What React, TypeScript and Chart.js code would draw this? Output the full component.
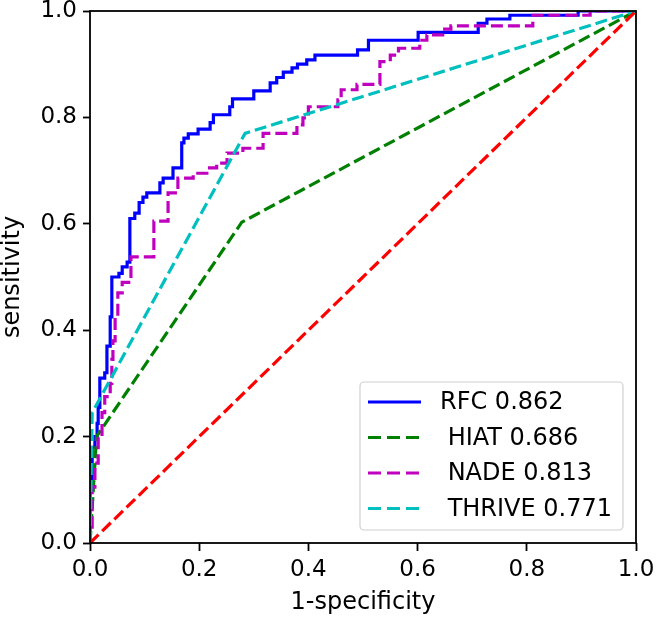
import { useEffect, useRef } from 'react';
import { Chart, registerables } from 'chart.js';

Chart.register(...registerables);

// ROC curves: [false positive rate (1-specificity), true positive rate (sensitivity)]
const rfcRoc: [number, number][] = [
  [0, 0], [0, 0.11], [0.004, 0.11], [0.004, 0.18], [0.009, 0.18], [0.009, 0.2], [0.013, 0.2], [0.013, 0.225],
  [0.015, 0.225], [0.015, 0.255], [0.018, 0.255], [0.018, 0.31], [0.027, 0.31], [0.027, 0.32], [0.031, 0.32],
  [0.031, 0.37], [0.037, 0.37], [0.037, 0.425], [0.04, 0.425], [0.04, 0.5], [0.053, 0.5], [0.053, 0.507],
  [0.059, 0.507], [0.059, 0.519], [0.068, 0.519], [0.068, 0.528], [0.073, 0.528], [0.073, 0.61], [0.082, 0.61],
  [0.082, 0.62], [0.09, 0.62], [0.09, 0.64], [0.097, 0.64], [0.097, 0.65], [0.104, 0.65], [0.104, 0.658],
  [0.128, 0.658], [0.128, 0.677], [0.134, 0.677], [0.134, 0.686], [0.152, 0.686], [0.152, 0.705], [0.168, 0.705],
  [0.168, 0.752], [0.172, 0.752], [0.172, 0.761], [0.18, 0.761], [0.18, 0.769], [0.198, 0.769], [0.198, 0.778],
  [0.22, 0.778], [0.22, 0.79], [0.226, 0.79], [0.226, 0.805], [0.256, 0.805], [0.256, 0.82], [0.261, 0.82],
  [0.261, 0.835], [0.3, 0.835], [0.3, 0.85], [0.33, 0.85], [0.33, 0.865], [0.342, 0.865], [0.342, 0.875],
  [0.354, 0.875], [0.354, 0.885], [0.37, 0.885], [0.37, 0.893], [0.38, 0.893], [0.38, 0.9], [0.397, 0.9],
  [0.397, 0.908], [0.412, 0.908], [0.412, 0.917], [0.49, 0.917], [0.49, 0.927], [0.51, 0.927], [0.51, 0.945],
  [0.601, 0.945], [0.601, 0.96], [0.711, 0.96], [0.711, 0.977], [0.727, 0.977], [0.727, 0.985], [0.769, 0.985],
  [0.769, 0.992], [0.894, 0.992], [0.894, 1], [1, 1],
];

const hiatRoc: [number, number][] = [[0, 0], [0.012, 0.2], [0.278, 0.603], [1, 1]];

const nadeRoc: [number, number][] = [
  [0, 0], [0, 0.03], [0.004, 0.03], [0.004, 0.105], [0.009, 0.105], [0.009, 0.15], [0.015, 0.15], [0.015, 0.2],
  [0.022, 0.2], [0.022, 0.245], [0.027, 0.245], [0.027, 0.275], [0.037, 0.275], [0.037, 0.3], [0.04, 0.3],
  [0.04, 0.345], [0.042, 0.345], [0.042, 0.38], [0.046, 0.38], [0.046, 0.43], [0.051, 0.43], [0.051, 0.47],
  [0.059, 0.47], [0.059, 0.49], [0.075, 0.49], [0.075, 0.538], [0.117, 0.538], [0.117, 0.605], [0.143, 0.605],
  [0.143, 0.658], [0.161, 0.658], [0.161, 0.686], [0.189, 0.686], [0.189, 0.695], [0.214, 0.695], [0.214, 0.705],
  [0.232, 0.705], [0.232, 0.714], [0.251, 0.714], [0.251, 0.733], [0.28, 0.733], [0.28, 0.742], [0.317, 0.742],
  [0.317, 0.77], [0.379, 0.77], [0.379, 0.786], [0.39, 0.786], [0.39, 0.799], [0.4, 0.799], [0.4, 0.82],
  [0.454, 0.82], [0.454, 0.833], [0.46, 0.833], [0.46, 0.852], [0.489, 0.852], [0.489, 0.862], [0.531, 0.862],
  [0.531, 0.905], [0.55, 0.905], [0.55, 0.917], [0.565, 0.917], [0.565, 0.93], [0.604, 0.93], [0.604, 0.945],
  [0.617, 0.945], [0.617, 0.955], [0.646, 0.955], [0.646, 0.966], [0.661, 0.966], [0.661, 0.972], [0.811, 0.972],
  [0.811, 0.992], [0.916, 0.992], [0.916, 1], [1, 1],
];

const thriveRoc: [number, number][] = [[0, 0], [0.004, 0.245], [0.284, 0.77], [1, 1]];

const chanceRoc: [number, number][] = [[0, 0], [1, 1]];

const seriesNames = ['RFC', 'HIAT', 'NADE', 'THRIVE'];
const aucValues = ['0.862', '0.686', '0.813', '0.771'];
const axisTicks = [0, 0.2, 0.4, 0.6, 0.8, 1.0];

const FONT = '"DejaVu Sans", sans-serif';
const DASH = [12, 5];
const LW = 3.2;

const series = [
  { name: seriesNames[0], auc: aucValues[0], roc: rfcRoc, color: '#0000ff', dash: [] as number[] },
  { name: seriesNames[1], auc: aucValues[1], roc: hiatRoc, color: '#008000', dash: DASH },
  { name: seriesNames[2], auc: aucValues[2], roc: nadeRoc, color: '#bf00bf', dash: DASH },
  { name: seriesNames[3], auc: aucValues[3], roc: thriveRoc, color: '#00bfbf', dash: DASH },
];

const toPoints = (roc: [number, number][]) => roc.map(([x, y]) => ({ x, y }));

const frameAndLegend = {
  id: 'frameAndLegend',
  afterDraw(chart: any) {
    const { ctx, chartArea: a } = chart;
    ctx.save();
    // axes frame
    ctx.setLineDash([]);
    ctx.strokeStyle = '#000';
    ctx.lineWidth = 1.8;
    ctx.strokeRect(a.left, a.top, a.right - a.left, a.bottom - a.top);

    // legend (lower right)
    const w = 263;
    const h = 148;
    const x0 = a.right - 13 - w;
    const y0 = a.bottom - 13 - h;
    const r = 4;
    ctx.beginPath();
    ctx.moveTo(x0 + r, y0);
    ctx.arcTo(x0 + w, y0, x0 + w, y0 + h, r);
    ctx.arcTo(x0 + w, y0 + h, x0, y0 + h, r);
    ctx.arcTo(x0, y0 + h, x0, y0, r);
    ctx.arcTo(x0, y0, x0 + w, y0, r);
    ctx.closePath();
    ctx.fillStyle = 'rgba(255,255,255,0.8)';
    ctx.fill();
    ctx.strokeStyle = '#d0d0d0';
    ctx.lineWidth = 1.2;
    ctx.stroke();

    ctx.font = `24px ${FONT}`;
    ctx.textBaseline = 'middle';
    ctx.textAlign = 'left';
    series.forEach((s, i) => {
      const cy = y0 + 20 + i * 35.5;
      ctx.beginPath();
      ctx.setLineDash(s.dash.length ? [13, 6] : []);
      ctx.strokeStyle = s.color;
      ctx.lineWidth = LW;
      ctx.moveTo(x0 + 8, cy);
      ctx.lineTo(x0 + 61, cy);
      ctx.stroke();
      ctx.setLineDash([]);
      ctx.fillStyle = '#000';
      const label = (i === 0 ? '' : ' ') + s.name + ' ' + s.auc;
      ctx.fillText(label, x0 + 80, cy + 1);
    });
    ctx.restore();
  },
};

export default function App() {
  const canvasRef = useRef<HTMLCanvasElement | null>(null);

  useEffect(() => {
    document.body.style.margin = '0';
    const canvas = canvasRef.current;
    if (!canvas) return;

    const lineDatasets = series.map((s) => ({
      label: s.name,
      data: toPoints(s.roc),
      borderColor: s.color,
      borderWidth: LW,
      borderDash: s.dash,
      borderCapStyle: 'butt' as const,
      pointRadius: 0,
      tension: 0,
      fill: false,
    }));

    const chanceDataset = {
      label: 'chance',
      data: toPoints(chanceRoc),
      borderColor: '#ff0000',
      borderWidth: LW,
      borderDash: DASH,
      borderCapStyle: 'butt' as const,
      pointRadius: 0,
      tension: 0,
      fill: false,
    };

    // first dataset is drawn on top in Chart.js
    const datasets = [chanceDataset, ...lineDatasets.slice().reverse()];

    const tickFont = { family: FONT, size: 23 };
    const titleFont = { family: FONT, size: 24 };

    const chart = new Chart(canvas, {
      type: 'line',
      data: { datasets },
      plugins: [frameAndLegend],
      options: {
        animation: false,
        responsive: false,
        devicePixelRatio: 1,
        layout: { padding: { left: 0, right: 20, top: 11, bottom: 0 } },
        plugins: { legend: { display: false }, tooltip: { enabled: false } },
        scales: {
          x: {
            type: 'linear',
            min: 0,
            max: 1,
            afterBuildTicks: (s: any) => {
              s.ticks = axisTicks.map((v) => ({ value: v }));
            },
            afterFit: (s: any) => {
              s.height = 77;
              s.paddingLeft = 0;
              s.paddingRight = 0;
            },
            ticks: {
              autoSkip: false,
              maxRotation: 0,
              padding: 5,
              color: '#000',
              font: tickFont,
              callback: (v: any) => Number(v).toFixed(1),
            },
            grid: {
              display: true,
              drawOnChartArea: false,
              drawTicks: true,
              tickLength: 8,
              tickColor: '#000',
              tickWidth: 1.8,
            },
            border: { display: false },
            title: {
              display: true,
              text: '1-specificity',
              color: '#000',
              font: titleFont,
              padding: { top: 0, bottom: 3 },
            },
          },
          y: {
            type: 'linear',
            min: 0,
            max: 1,
            afterBuildTicks: (s: any) => {
              s.ticks = axisTicks.map((v) => ({ value: v }));
            },
            afterFit: (s: any) => {
              s.width = 90;
              s.paddingTop = 0;
              s.paddingBottom = 0;
            },
            ticks: {
              autoSkip: false,
              padding: 6,
              color: '#000',
              font: tickFont,
              callback: (v: any) => Number(v).toFixed(1),
            },
            grid: {
              display: true,
              drawOnChartArea: false,
              drawTicks: true,
              tickLength: 7,
              tickColor: '#000',
              tickWidth: 1.8,
            },
            border: { display: false },
            title: {
              display: true,
              text: 'sensitivity',
              color: '#000',
              font: titleFont,
              padding: { top: -2, bottom: 0 },
            },
          },
        },
      } as any,
    });

    return () => chart.destroy();
  }, []);

  return (
    <div style={{ width: 656, height: 620 }}>
      <canvas ref={canvasRef} width={656} height={620} style={{ display: 'block', width: 656, height: 620 }} />
    </div>
  );
}
